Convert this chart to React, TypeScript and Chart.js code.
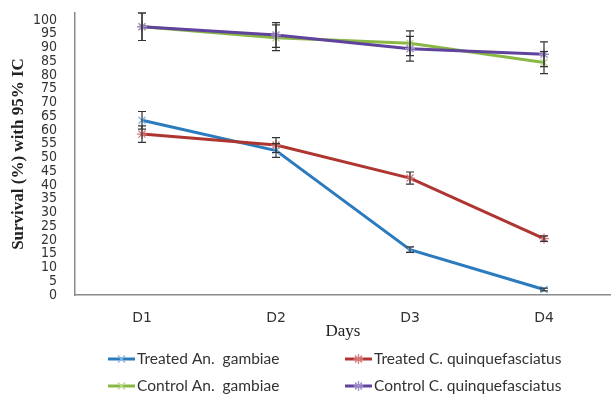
import React, { useEffect, useRef } from "react";
import { Chart, registerables } from "chart.js";
import { drawPoint } from "chart.js/helpers";

Chart.register(...registerables);

const days = ["D1", "D2", "D3", "D4"];
const seriesLabels = [
  "Treated An.  gambiae",
  "Treated C. quinquefasciatus",
  "Control An.  gambiae",
  "Control C. quinquefasciatus",
];
const treatedAnGambiae = [63.5, 52.5, 16.5, 2];
const treatedCxQuinque = [58.5, 54.5, 42.5, 20.5];
const controlAnGambiae = [97.5, 93.5, 91.5, 84.5];
const controlCxQuinque = [97.5, 94.5, 89.5, 87.5];
const errTreatedAnGambiae = [3.2, 2.5, 1, 0.5];
const errTreatedCxQuinque = [3, 2.7, 2.2, 1];
const errControlAnGambiae = [5, 4.7, 4.5, 4];
const errControlCxQuinque = [5, 4.5, 4.5, 4.5];

const lineColors = ["#2B7BBE", "#AE3530", "#8AB845", "#5F439C"];
const markColors = ["#86B8E2", "#D87878", "#BCD98F", "#A08CCC"];
const markStyles = ["crossRot", "star", "crossRot", "star"];

const errorBarPlugin = {
  id: "errorBars",
  afterDatasetsDraw(chart: any) {
    const ctx = chart.ctx;
    const x = chart.scales.x;
    const y = chart.scales.y;
    ctx.save();
    ctx.strokeStyle = "#333333";
    ctx.lineWidth = 1.2;
    chart.data.datasets.forEach((ds: any) => {
      const errs: number[] = ds.errors || [];
      ds.data.forEach((v: number, i: number) => {
        const px = x.getPixelForValue(i);
        const top = y.getPixelForValue(v + errs[i]);
        const bot = y.getPixelForValue(v - errs[i]);
        ctx.beginPath();
        ctx.moveTo(px, top);
        ctx.lineTo(px, bot);
        ctx.moveTo(px - 4, top);
        ctx.lineTo(px + 4, top);
        ctx.moveTo(px - 4, bot);
        ctx.lineTo(px + 4, bot);
        ctx.stroke();
      });
    });
    ctx.restore();
  },
};

const legendPlugin = {
  id: "gridLegend",
  afterDraw(chart: any) {
    const ctx = chart.ctx;
    const colX = [108, 345];
    const rowY = [359, 386];
    ctx.save();
    ctx.font = "15.5px Lato";
    ctx.textBaseline = "middle";
    ctx.textAlign = "left";
    chart.data.datasets.forEach((ds: any, i: number) => {
      const x0 = colX[i % 2];
      const y0 = rowY[Math.floor(i / 2)];
      ctx.strokeStyle = ds.borderColor;
      ctx.lineWidth = 3;
      ctx.beginPath();
      ctx.moveTo(x0, y0);
      ctx.lineTo(x0 + 27, y0);
      ctx.stroke();
      ctx.strokeStyle = ds.pointBorderColor;
      ctx.lineWidth = 1.3;
      drawPoint(
        ctx,
        { pointStyle: ds.pointStyle, radius: 5, rotation: 0, borderWidth: 1.3 } as any,
        x0 + 13.5,
        y0
      );
      ctx.fillStyle = "#333333";
      ctx.fillText(ds.label, x0 + 29, y0);
    });
    ctx.restore();
  },
};

export default function App() {
  const ref = useRef<HTMLCanvasElement>(null);
  useEffect(() => {
    if (!ref.current) return;
    const values = [treatedAnGambiae, treatedCxQuinque, controlAnGambiae, controlCxQuinque];
    const errors = [errTreatedAnGambiae, errTreatedCxQuinque, errControlAnGambiae, errControlCxQuinque];
    const chart = new Chart(ref.current, {
      type: "line",
      data: {
        labels: days,
        datasets: values.map((v, i) => ({
          label: seriesLabels[i],
          data: v,
          errors: errors[i],
          borderColor: lineColors[i],
          backgroundColor: lineColors[i],
          borderWidth: 3,
          tension: 0,
          pointStyle: markStyles[i],
          pointRadius: 5,
          pointBorderColor: markColors[i],
          pointBackgroundColor: "rgba(0,0,0,0)",
          pointBorderWidth: 1.3,
          order: 4 - i,
          clip: false,
        })) as any,
      },
      options: {
        responsive: false,
        animation: false,
        layout: { autoPadding: false, padding: { top: 13, right: 0, left: 0, bottom: 0 } },
        plugins: {
          legend: { display: false },
          tooltip: { enabled: false },
        },
        scales: {
          x: {
            type: "category",
            offset: true,
            grid: { display: false, drawTicks: false },
            border: { display: true, color: "#8a8a8a", width: 1.5 },
            ticks: {
              padding: 15,
              color: "#333333",
              font: { family: "'DejaVu Sans'", size: 14 },
            },
            title: {
              display: true,
              text: "Days",
              color: "#222222",
              font: { family: "'Liberation Serif'", size: 17 },
              padding: { top: 0, bottom: 52 },
            },
            afterFit(scale: any) {
              scale.height = 99;
              scale.paddingLeft = 0;
              scale.paddingRight = 0;
            },
          },
          y: {
            min: 0,
            max: 102.5,
            grid: { display: false, drawTicks: false },
            border: { display: true, color: "#8a8a8a", width: 1.5 },
            ticks: {
              stepSize: 5,
              includeBounds: false,
              autoSkip: false,
              padding: 18,
              color: "#333333",
              font: { family: "'DejaVu Sans Condensed', 'DejaVu Sans'", size: 14 },
            },
            title: {
              display: true,
              text: "Survival (%) with 95% IC",
              color: "#222222",
              font: { family: "'Liberation Serif'", size: 17, weight: "bold" },
              padding: { top: 8, bottom: 0 },
            },
            afterFit(scale: any) {
              scale.width = 75;
              scale.paddingTop = 0;
              scale.paddingBottom = 0;
            },
          },
        },
      },
      plugins: [errorBarPlugin, legendPlugin],
    } as any);
    return () => chart.destroy();
  }, []);
  return (
    <div style={{ position: "fixed", left: 0, top: 0, width: 611, height: 394, background: "#fff" }}>
      <canvas ref={ref} width={611} height={394} />
    </div>
  );
}
